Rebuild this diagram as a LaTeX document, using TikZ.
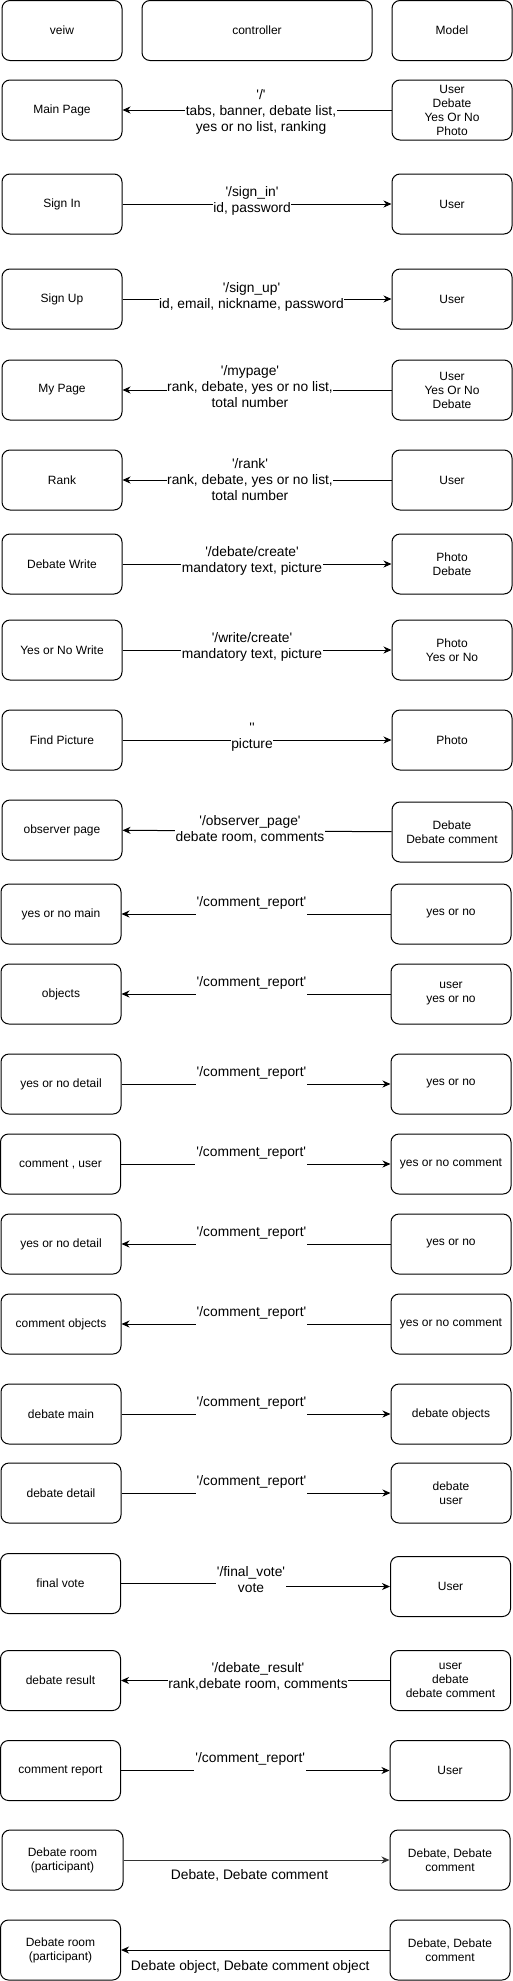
\documentclass[tikz,border=0pt]{standalone}
\usepackage{fontspec}
\setmainfont{Liberation Sans}[Ligatures=TeXOff]
\usetikzlibrary{arrows.meta}
\begin{document}
\begin{tikzpicture}[x=1pt,y=-1pt,
  box/.style={draw, line width=1pt, rounded corners=8pt, minimum width=120pt, minimum height=60pt, inner sep=0pt, align=center, font=\fontsize{12}{14}\selectfont},
  arr/.style={line width=1pt, -{Stealth[length=8pt,width=7pt,inset=2.5pt]}},
  lbl/.style={fill=white, align=center, inner sep=0.5pt, font=\fontsize{13.8}{16}\selectfont},
  toplbl/.style={fill=white, inner xsep=1pt, inner ysep=0pt, anchor=south, yshift=-3pt, text depth=10.5pt, font=\fontsize{13.8}{16}\selectfont},
  plainlbl/.style={align=center, inner sep=0pt, font=\fontsize{13.8}{16}\selectfont}]
\useasboundingbox (0,0) rectangle (513,1981);

% header
\node[box] (hv) at (62,30.5) {veiw};
\node[box, minimum width=230pt] (hc) at (257,30.5) {controller};
\node[box] (hm) at (452,30.5) {Model};

% row 1
\node[box] (v1) at (62,110) {Main Page};
\node[box] (m1) at (452,110) {User\\Debate\\Yes Or No\\Photo};
\draw[arr] (m1) -- (v1) node[midway, lbl, xshift=4pt, yshift=-2pt] {'/'\\tabs, banner, debate list,\\ yes or no list, ranking};

% row 2
\node[box] (v2) at (62,204) {Sign In};
\node[box] (m2) at (452,204) {User};
\draw[arr] (v2) -- (m2) node[midway, lbl, xshift=-5pt, yshift=3pt] {'/sign\_in'\\id, password};

% row 3
\node[box] (v3) at (62,299) {Sign Up};
\node[box] (m3) at (452,299) {User};
\draw[arr] (v3) -- (m3) node[midway, lbl, xshift=-5.5pt, yshift=2.5pt] {'/sign\_up'\\id, email, nickname, password};

% row 4
\node[box] (v4) at (62,390) {My Page};
\node[box] (m4) at (452,390) {User\\Yes Or No\\Debate};
\draw[arr] (m4) -- (v4) node[midway, lbl, xshift=-7pt, yshift=3pt] {'/mypage'\\rank, debate, yes or no list,\\total number};

% row 5
\node[box] (v5) at (62,480) {Rank};
\node[box] (m5) at (452,480) {User};
\draw[arr] (m5) -- (v5) node[midway, lbl, xshift=-7pt] {'/rank'\\rank, debate, yes or no list,\\total number};

% row 6
\node[box] (v6) at (62,564) {Debate Write};
\node[box] (m6) at (452,564) {Photo\\Debate};
\draw[arr] (v6) -- (m6) node[midway, lbl, xshift=-5pt, yshift=3pt] {'/debate/create'\\mandatory text, picture};

% row 7
\node[box] (v7) at (62,650) {Yes or No Write};
\node[box] (m7) at (452,650) {Photo\\Yes or No};
\draw[arr] (v7) -- (m7) node[midway, lbl, xshift=-5pt, yshift=3pt] {'/write/create'\\mandatory text, picture};

% row 8
\node[box] (v8) at (62,740) {Find Picture};
\node[box] (m8) at (452,740) {Photo};
\draw[arr] (v8) -- (m8) node[midway, lbl, xshift=-5pt, yshift=2.5pt] {''\\picture};

% row 9
\node[box] (v9) at (62,830) {observer page};
\node[box] (m9) at (452,832) {Debate\\Debate comment};
\draw[arr] (m9) -- (v9) node[midway, lbl, xshift=-7pt, yshift=1.5pt] {'/observer\_page'\\debate room, comments};

% row 10
\node[box] (v10) at (61,914) {yes or no main};
\node[box] (m10) at (451,914) {yes or no};
\draw[arr] (m10) -- (v10) node[midway, toplbl, xshift=-4.5pt] {'/comment\_report'};

% row 11
\node[box] (v11) at (61,994) {objects};
\node[box] (m11) at (451,994) {user\\yes or no};
\draw[arr] (m11) -- (v11) node[midway, toplbl, xshift=-4.5pt] {'/comment\_report'};

% row 12
\node[box] (v12) at (61,1084) {yes or no detail};
\node[box] (m12) at (451,1084) {yes or no};
\draw[arr] (v12) -- (m12) node[midway, toplbl, xshift=-4.5pt] {'/comment\_report'};

% row 13
\node[box] (v13) at (60.5,1164) {comment , user};
\node[box] (m13) at (451,1164) {yes or no comment};
\draw[arr] (v13) -- (m13) node[midway, toplbl, xshift=-4.5pt] {'/comment\_report'};

% row 14
\node[box] (v14) at (61,1244) {yes or no detail};
\node[box] (m14) at (451,1244) {yes or no};
\draw[arr] (m14) -- (v14) node[midway, toplbl, xshift=-4.5pt] {'/comment\_report'};

% row 15
\node[box] (v15) at (61,1324) {comment objects};
\node[box] (m15) at (451,1324) {yes or no comment};
\draw[arr] (m15) -- (v15) node[midway, toplbl, xshift=-4.5pt] {'/comment\_report'};

% row 16
\node[box] (v16) at (61,1414) {debate main};
\node[box] (m16) at (451,1414) {debate objects};
\draw[arr] (v16) -- (m16) node[midway, toplbl, xshift=-4.5pt] {'/comment\_report'};

% row 17
\node[box] (v17) at (61,1493) {debate detail};
\node[box] (m17) at (451,1493) {debate\\user};
\draw[arr] (v17) -- (m17) node[midway, toplbl, xshift=-4.5pt] {'/comment\_report'};

% row 18
\node[box] (v18) at (60.5,1583.5) {final vote};
\node[box] (m18) at (450.5,1586.5) {User};
\draw[arr] (v18.east) -- ++(130,0) node[lbl, yshift=3.5pt] {'/final\_vote'\\vote} |- (m18.west);

% row 19
\node[box] (v19) at (60.5,1680.5) {debate result};
\node[box] (m19) at (450.5,1680.5) {user\\debate\\debate comment};
\draw[arr] (m19) -- (v19) node[midway, lbl, xshift=2.5pt, yshift=4pt] {'/debate\_result'\\rank,debate room, comments};

% row 20
\node[box] (v20) at (60.5,1770.5) {comment report};
\node[box] (m20) at (450,1770.5) {User};
\draw[arr] (v20) -- (m20) node[midway, toplbl, xshift=-5pt] {'/comment\_report'};

% row 21
\node[box, minimum width=121pt] (v21) at (62.5,1860) {Debate room\\(participant)};
\node[box] (m21) at (450,1860) {Debate, Debate\\comment};
\draw[arr, draw=black!80] (v21) -- (m21) node[midway, plainlbl, xshift=-7pt, yshift=-15pt] {Debate, Debate comment};

% row 22
\node[box] (v22) at (60.5,1950) {Debate room\\(participant)};
\node[box] (m22) at (450,1950) {Debate, Debate\\comment};
\draw[arr] (m22) -- (v22) node[midway, plainlbl, xshift=-5pt, yshift=-17pt] {Debate object, Debate comment object};

\end{tikzpicture}
\end{document}
